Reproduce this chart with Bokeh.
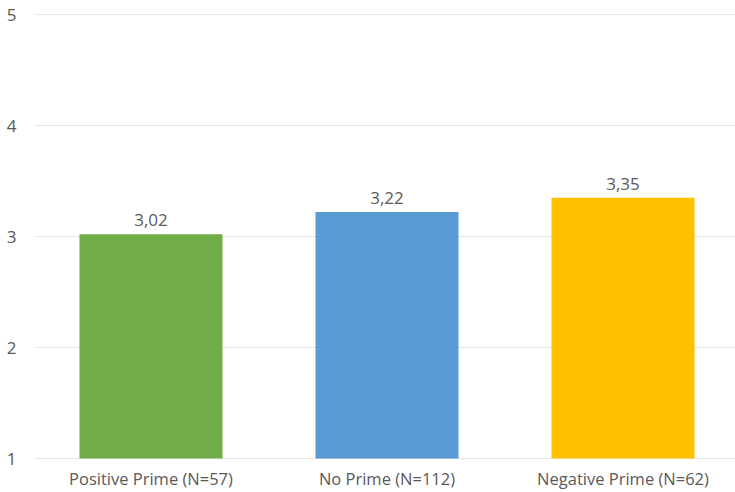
from bokeh.plotting import figure
from bokeh.models import ColumnDataSource, FixedTicker, Range1d
from bokeh.core.properties import value
from bokeh.embed import file_html
from bokeh.resources import INLINE

categories = ["Positive Prime (N=57)", "No Prime (N=112)", "Negative Prime (N=62)"]
means = [3.02, 3.22, 3.35]
colors = ["#70AD47", "#5B9BD5", "#FFC000"]
y_ticks = [1, 2, 3, 4, 5]

xs = list(range(len(categories)))
labels = [f"{v:.2f}".replace(".", ",") for v in means]
src = ColumnDataSource(dict(x=xs, top=means, color=colors, label=labels))

FONT = "Open Sans"
GRAY = "#595959"

p = figure(width=735, height=492, output_backend="svg", toolbar_location=None,
           x_range=Range1d(-0.4936, 2.4767), y_range=Range1d(1 - 1/111, 5 + 4/111),
           min_border_left=34, min_border_right=0, min_border_top=10, min_border_bottom=33)
p.outline_line_color = None
p.background_fill_color = "white"
p.border_fill_color = "white"

p.vbar(x="x", top="top", bottom=1, width=0.606, fill_color="color", line_color=None, source=src)
p.text(x="x", y="top", text="label", source=src, text_align="center", text_baseline="bottom",
       y_offset=-8, text_font=value(FONT), text_font_size="17px", text_color=GRAY)

p.xgrid.visible = False
p.ygrid.grid_line_color = "#E4E4E4"
p.ygrid.grid_line_width = 1
p.yaxis.ticker = FixedTicker(ticks=y_ticks)
p.xaxis.ticker = FixedTicker(ticks=xs)
p.xaxis.major_label_overrides = {i: c for i, c in enumerate(categories)}

for ax in (p.xaxis, p.yaxis):
    ax.axis_line_color = None
    ax.major_tick_line_color = None
    ax.minor_tick_line_color = None
    ax.major_tick_out = 0
    ax.major_tick_in = 0
    ax.major_label_text_font = FONT
    ax.major_label_text_color = GRAY
p.xaxis.major_label_text_font_size = "16.5px"
p.yaxis.major_label_text_font_size = "17px"
p.xaxis.major_label_standoff = 7
p.yaxis.major_label_standoff = 18

open("out.html", "w").write(file_html(p, INLINE))
